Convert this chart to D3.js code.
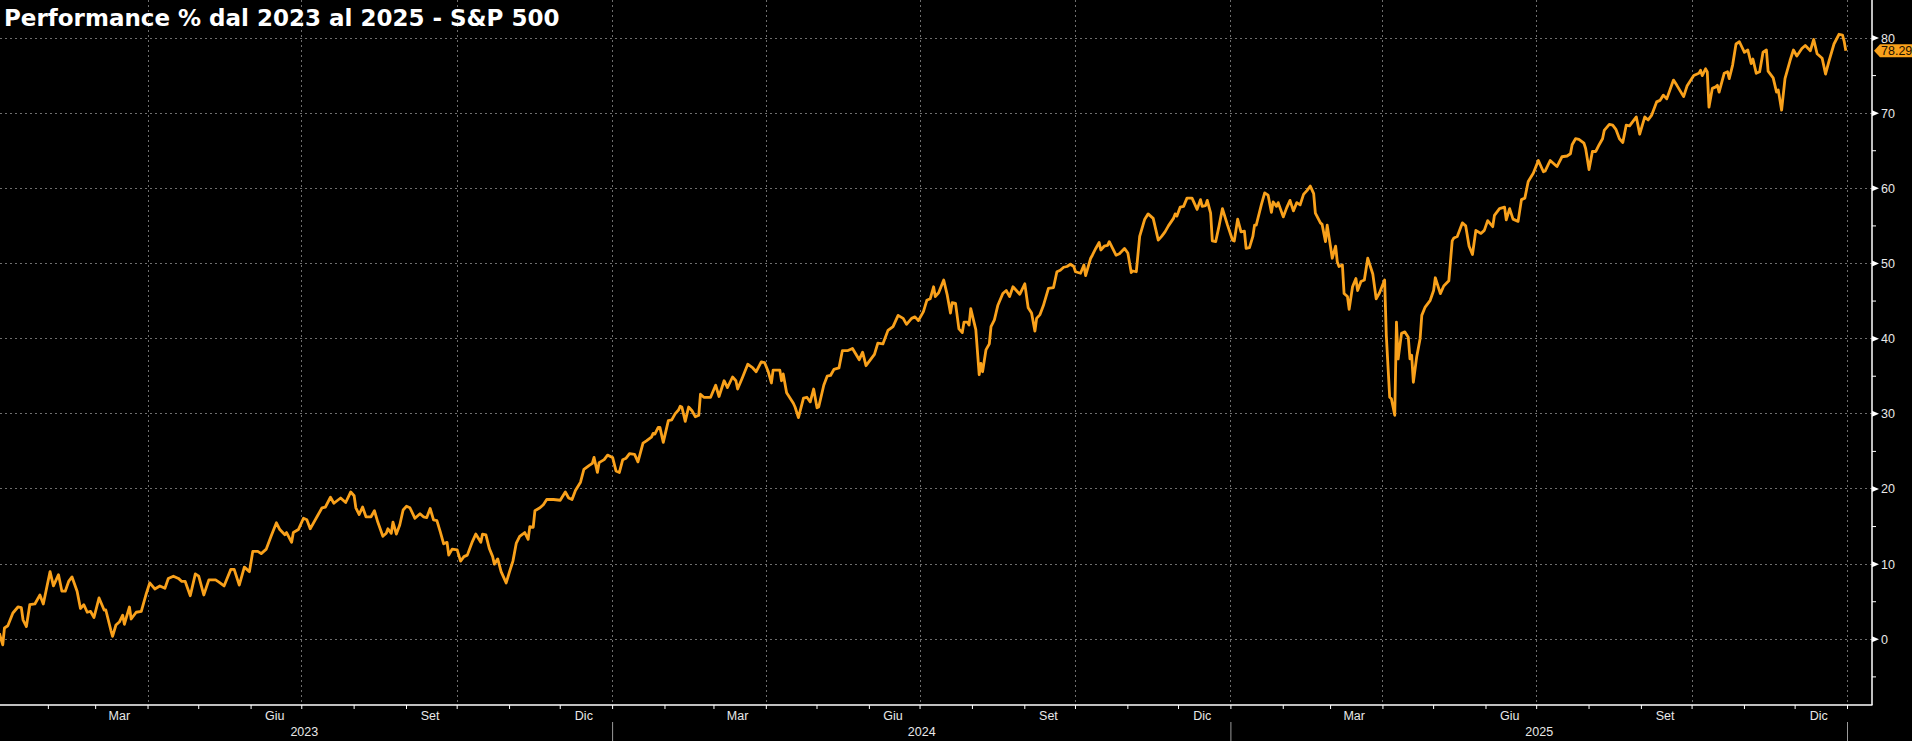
<!DOCTYPE html>
<html>
<head>
<meta charset="utf-8">
<script src="https://cdn.jsdelivr.net/npm/d3@7"></script>
<style>
html, body { margin: 0; padding: 0; background: #000; overflow: hidden; }
svg { display: block; }
</style>
</head>
<body>
<svg id="chart" width="1912" height="741"></svg>
<script>
var titolo = "Performance % dal 2023 al 2025 - S&P 500";
var mesi = ["Gen","Feb","Mar","Apr","Mag","Giu","Lug","Ago","Set","Ott","Nov","Dic"];
var mesiEtichetta = [2, 5, 8, 11]; // Mar, Giu, Set, Dic
var anni = [2023, 2024, 2025];
var yTicks = [0, 10, 20, 30, 40, 50, 60, 70, 80];
var yMinor = [-5, 5, 15, 25, 35, 45, 55, 65, 75];
var ultimo = 78.29;

// [giorni dal 1 gen 2023, performance %]
var serie2023 = [[2,0.8],[4,-0.75],[5,1.5],[7,1.8],[10,3.5],[13,4.3],[15,4.2],[16,2.6],[18,1.7],[20,4.6],[23,4.7],[26,5.9],[28,4.7],[32,9.0],[34,7.1],[37,8.6],[39,6.4],[41,6.4],[43,7.7],[45,8.3],[48,6.4],[50,4.1],[52,4.6],[54,3.6],[56,3.7],[58,2.9],[61,5.5],[64,3.9],[65,3.9],[68,1.2],[69,0.4],[71,1.9],[73,2.3],[75,3.2],[76,2.0],[79,4.3],[80,2.7],[83,3.6],[86,3.7],[89,6.1],[91,7.5],[94,6.7],[97,7.1],[100,6.8],[102,8.1],[105,8.4],[108,8.1],[110,7.7],[112,7.7],[115,5.8],[118,8.7],[120,8.4],[123,5.9],[126,7.9],[130,7.9],[132,7.6],[135,7.1],[139,9.3],[141,9.3],[144,7.2],[147,9.6],[150,9.0],[152,11.7],[155,11.7],[157,11.4],[160,12.0],[163,13.8],[166,15.5],[168,14.6],[171,13.9],[172,14.2],[175,12.9],[176,14.2],[179,14.6],[182,16.1],[184,15.9],[186,14.7],[190,16.3],[193,17.5],[195,17.6],[198,18.9],[200,18.1],[204,18.8],[207,18.2],[210,19.6],[212,19.1],[213,17.5],[215,16.6],[217,17.6],[219,16.3],[222,16.3],[224,17.1],[226,15.6],[229,13.7],[231,14.1],[232,14.7],[234,14.1],[235,15.6],[237,14.0],[239,15.2],[241,17.2],[243,17.7],[245,17.5],[248,16.1],[251,16.7],[253,16.3],[255,16.2],[257,17.4],[259,15.9],[261,15.8],[263,14.3],[265,12.7],[267,12.9],[268,11.2],[270,12.0],[273,11.9],[275,10.4],[277,11.0],[279,11.2],[282,13.0],[284,14.0],[287,12.9],[288,14.0],[290,13.9],[292,12.1],[294,11.0],[295,10.0],[297,10.7],[299,9.0],[302,7.5],[304,9.0],[306,10.4],[308,12.8],[310,13.7],[313,14.2],[315,13.3],[316,15.0],[318,14.9],[319,17.1],[322,17.5],[324,17.9],[326,18.6],[330,18.6],[334,18.5],[337,19.6],[339,18.8],[341,18.6],[343,19.8],[346,20.9],[348,22.6],[351,23.1],[353,23.4],[354,24.2],[356,22.2],[357,23.5],[360,23.9],[362,24.5]];

var serie2024 = [[365,24.2],[367,22.4],[369,22.2],[371,23.9],[373,24.1],[375,24.7],[378,24.6],[380,23.6],[383,26.1],[385,26.4],[388,26.9],[389,27.4],[390,27.3],[392,28.2],[393,28.2],[395,26.2],[398,29.1],[400,29.2],[402,30.0],[404,30.5],[405,31.0],[406,30.9],[408,29.0],[410,30.9],[412,30.4],[414,29.6],[416,29.8],[417,32.6],[419,32.2],[423,32.2],[426,33.8],[428,32.3],[431,34.4],[433,33.5],[436,34.9],[438,34.4],[439,33.3],[442,34.9],[445,36.6],[448,36.1],[450,35.6],[453,36.9],[455,36.8],[457,35.7],[459,34.1],[460,35.8],[464,35.8],[465,34.4],[466,35.3],[468,32.8],[472,31.4],[473,30.9],[475,29.5],[478,32.1],[480,32.2],[482,31.6],[484,33.3],[486,30.8],[487,30.9],[490,33.8],[492,35.0],[494,35.1],[496,35.9],[499,36.1],[501,38.4],[504,38.4],[507,38.7],[511,37.2],[513,38.2],[515,36.4],[518,37.3],[520,37.9],[522,39.4],[525,39.3],[528,41.1],[531,41.6],[534,43.1],[537,42.7],[539,41.9],[542,42.7],[544,42.9],[546,42.4],[549,43.6],[551,45.1],[553,45.3],[555,46.9],[556,45.6],[558,46.1],[561,47.8],[563,45.9],[565,43.4],[566,44.8],[568,44.7],[570,41.3],[572,40.8],[573,42.2],[575,42.2],[576,41.8],[577,44.0],[580,41.2],[582,35.2],[583,36.7],[584,35.6],[586,38.5],[588,39.3],[589,41.6],[591,42.5],[593,44.4],[596,46.0],[598,46.4],[600,45.6],[602,46.9],[604,46.4],[606,45.9],[609,47.3],[611,44.1],[613,43.4],[615,41.0],[616,42.7],[618,43.2],[620,44.4],[623,46.7],[626,46.8],[628,48.9],[630,49.1],[632,49.5],[634,49.6],[636,49.9],[638,49.6],[639,48.9],[642,48.7],[644,49.8],[645,48.4],[648,50.7],[649,51.1],[651,52.0],[653,52.8],[654,51.8],[656,52.3],[658,52.4],[659,52.9],[661,52.0],[663,51.1],[665,51.3],[668,52.0],[670,51.4],[672,48.8],[673,49.0],[675,48.9],[677,53.6],[680,55.9],[682,56.6],[685,56.0],[688,53.1],[690,53.6],[692,54.2],[694,55.0],[697,56.0],[698,56.6],[699,56.3],[701,57.5],[703,57.6],[705,58.7],[708,58.7],[709,58.2],[711,57.2],[713,58.5],[714,57.6],[716,57.7],[717,58.4],[719,56.7],[720,53.0],[722,52.9],[724,55.0],[726,57.3],[729,55.1]];

var serie2025 = [[732,53.1],[733,53.0],[735,55.9],[737,54.2],[739,54.3],[740,52.0],[742,52.1],[744,53.6],[745,55.1],[746,55.1],[749,57.8],[751,59.4],[753,59.1],[755,56.8],[756,58.2],[758,57.6],[759,58.1],[762,56.2],[764,57.4],[766,58.4],[768,57.0],[770,58.1],[772,57.8],[774,59.2],[776,59.7],[778,60.3],[780,59.3],[781,56.7],[784,55.4],[785,55.2],[787,52.9],[788,55.1],[790,52.2],[791,50.7],[793,52.3],[794,50.2],[795,49.6],[797,49.8],[798,46.0],[800,45.6],[801,43.9],[803,46.9],[805,48.0],[806,46.4],[808,47.6],[810,47.8],[812,50.7],[815,48.6],[817,45.3],[819,46.1],[822,47.8],[823,40.4],[825,32.2],[826,32.0],[828,29.8],[829,42.2],[830,37.3],[832,40.7],[834,40.9],[836,40.2],[837,37.3],[838,37.8],[839,34.2],[841,37.6],[843,40.0],[844,43.1],[846,44.2],[849,45.1],[851,46.4],[852,48.1],[855,46.0],[857,47.0],[860,47.7],[862,53.0],[863,53.4],[865,53.6],[868,55.4],[870,55.0],[872,52.3],[874,51.2],[876,54.4],[879,54.0],[881,54.4],[883,55.7],[886,54.9],[887,56.4],[890,57.3],[893,57.5],[894,55.8],[896,57.3],[898,55.9],[901,55.6],[903,58.5],[905,58.7],[907,60.9],[910,62.0],[913,63.7],[916,62.2],[917,62.3],[920,63.7],[922,63.3],[924,62.9],[927,64.2],[930,64.3],[932,64.6],[933,65.8],[935,66.6],[937,66.5],[940,66.0],[941,65.3],[943,62.5],[945,64.9],[947,64.9],[949,65.8],[951,66.6],[952,67.7],[955,68.5],[957,68.4],[959,67.8],[961,66.6],[963,66.1],[965,68.4],[967,68.3],[971,69.5],[973,67.2],[976,69.5],[978,69.1],[980,69.7],[983,71.5],[985,71.7],[987,72.4],[989,71.9],[993,74.4],[995,73.7],[999,72.2],[1001,73.6],[1005,75.0],[1008,75.3],[1009,75.7],[1010,75.0],[1012,75.9],[1013,75.5],[1014,70.8],[1016,73.3],[1018,73.5],[1019,73.7],[1020,72.8],[1023,75.3],[1025,75.5],[1026,74.6],[1028,76.4],[1030,79.2],[1032,79.5],[1035,78.1],[1037,78.4],[1039,76.6],[1040,77.2],[1042,75.3],[1044,75.5],[1046,78.1],[1048,78.4],[1049,75.6],[1052,74.7],[1054,72.8],[1055,73.1],[1057,70.4],[1059,74.6],[1062,77.0],[1064,78.4],[1066,77.6],[1069,78.6],[1071,79.0],[1074,78.3],[1076,79.8],[1078,77.9],[1081,77.3],[1083,75.2],[1085,76.9],[1088,79.2],[1091,80.5],[1093,80.4],[1094,79.6],[1095,78.29]];

var inizio = Date.UTC(2023, 0, 1);
var fine = Date.UTC(2026, 0, 1);
var right = 1872, bottom = 705;
var arancio = "#f9a11b";

var x = d3.scaleUtc().domain([inizio, fine]).range([-4, 1847.5]);
var y = d3.scaleLinear().domain([0, 80]).range([639.3, 38]);

function giorno(n) { return d3.utcDay.offset(new Date(inizio), n); }

var dati = serie2023.concat(serie2024, serie2025).map(function(d) {
	return { data: giorno(d[0]), v: d[1] };
});

var svg = d3.select("#chart");
svg.append("rect").attr("width", 1912).attr("height", 741).attr("fill", "#000");

// griglia
svg.selectAll(".gy").data(yTicks).enter().append("line")
	.attr("x1", 0).attr("x2", right)
	.attr("y1", function(d) { return y(d); }).attr("y2", function(d) { return y(d); })
	.attr("stroke", "#6e6e6e").attr("stroke-width", 1).attr("stroke-dasharray", "2,3")
	.attr("shape-rendering", "crispEdges");

var trimestri = d3.utcMonth.every(3).range(Date.UTC(2023, 3, 1), Date.UTC(2026, 0, 2));
svg.selectAll(".gx").data(trimestri).enter().append("line")
	.attr("x1", function(d) { return x(d); }).attr("x2", function(d) { return x(d); })
	.attr("y1", 0).attr("y2", bottom)
	.attr("stroke", "#6e6e6e").attr("stroke-width", 1).attr("stroke-dasharray", "2,3")
	.attr("shape-rendering", "crispEdges");

// linea
var line = d3.line().x(function(d) { return x(d.data); }).y(function(d) { return y(d.v); });
svg.append("path").datum(dati).attr("d", line)
	.attr("fill", "none").attr("stroke", arancio).attr("stroke-width", 2.8)
	.attr("stroke-linejoin", "round");

// assi
svg.append("line").attr("x1", 0).attr("x2", right + 0.5).attr("y1", bottom).attr("y2", bottom)
	.attr("stroke", "#fff").attr("stroke-width", 1.5);
svg.append("line").attr("x1", right).attr("x2", right).attr("y1", 0).attr("y2", bottom)
	.attr("stroke", "#fff").attr("stroke-width", 1.5);

// tick asse y
svg.selectAll(".tri").data(yTicks).enter().append("path")
	.attr("d", function(d) { var t = y(d); return "M" + right + "," + (t - 3) + "L" + (right + 7) + "," + t + "L" + right + "," + (t + 3) + "Z"; })
	.attr("fill", "#fff");
svg.selectAll(".minor").data(yMinor).enter().append("line")
	.attr("x1", right).attr("x2", right + 4)
	.attr("y1", function(d) { return y(d); }).attr("y2", function(d) { return y(d); })
	.attr("stroke", "#fff").attr("stroke-width", 1);
svg.selectAll(".ylab").data(yTicks).enter().append("text")
	.attr("x", right + 9).attr("y", function(d) { return y(d) + 4.5; })
	.attr("fill", "#e8e8e8").style("font-family", "'Liberation Sans', Arial, sans-serif").style("font-size", "12.5px")
	.text(function(d) { return d; });

// etichetta ultimo valore
var yu = y(ultimo);
svg.append("path")
	.attr("d", "M" + (right + 2) + "," + yu + "L" + (right + 8) + "," + (yu - 6.5) + "L1912," + (yu - 6.5) + "L1912," + (yu + 6.5) + "L" + (right + 8) + "," + (yu + 6.5) + "Z")
	.attr("fill", arancio);
svg.append("text").attr("x", right + 9).attr("y", yu + 4.5)
	.attr("fill", "#1a1000").style("font-family", "'Liberation Sans', Arial, sans-serif").style("font-size", "12.5px")
	.text(ultimo.toFixed(2));

// tick asse x
var mesiTick = d3.utcMonth.range(Date.UTC(2023, 1, 1), Date.UTC(2026, 0, 2));
svg.selectAll(".xt").data(mesiTick).enter().append("line")
	.attr("x1", function(d) { return x(d); }).attr("x2", function(d) { return x(d); })
	.attr("y1", bottom).attr("y2", bottom + 4)
	.attr("stroke", "#fff").attr("stroke-width", 1);

var etichetteMesi = [];
anni.forEach(function(a) {
	mesiEtichetta.forEach(function(m) { etichetteMesi.push(Date.UTC(a, m, 15)); });
});
svg.selectAll(".xlab").data(etichetteMesi).enter().append("text")
	.attr("x", function(d) { return x(d); }).attr("y", 720)
	.attr("text-anchor", "middle")
	.attr("fill", "#e8e8e8").style("font-family", "'Liberation Sans', Arial, sans-serif").style("font-size", "12.5px")
	.text(function(d) { return mesi[new Date(d).getUTCMonth()]; });

svg.selectAll(".anno").data(anni).enter().append("text")
	.attr("x", function(a) { return (x(Date.UTC(a, 0, 1)) + x(Date.UTC(a + 1, 0, 1))) / 2; })
	.attr("y", 736)
	.attr("text-anchor", "middle")
	.attr("fill", "#e8e8e8").style("font-family", "'Liberation Sans', Arial, sans-serif").style("font-size", "12.5px")
	.text(function(a) { return a; });

svg.selectAll(".sep").data(anni).enter().append("line")
	.attr("x1", function(a) { return x(Date.UTC(a + 1, 0, 1)); }).attr("x2", function(a) { return x(Date.UTC(a + 1, 0, 1)); })
	.attr("y1", 722).attr("y2", 741)
	.attr("stroke", "#9a9a9a").attr("stroke-width", 1);

// titolo
svg.append("text").attr("x", 4).attr("y", 26)
	.attr("fill", "#fff").style("font-family", "'DejaVu Sans', sans-serif").style("font-weight", "bold").style("font-size", "23px")
	.text(titolo);
</script>
</body>
</html>
